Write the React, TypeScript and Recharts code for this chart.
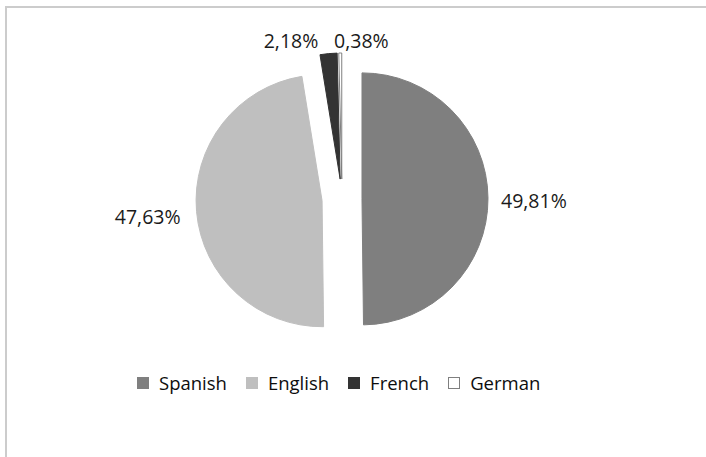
import React from 'react';
import { PieChart, Pie, Cell, Legend } from 'recharts';

const categories = ['Spanish', 'English', 'French', 'German'];
const shares = [49.81, 47.63, 2.18, 0.38];
const labelTexts = ['49,81%', '47,63%', '2,18%', '0,38%'];

const data = categories.map((name, i) => ({ name, value: shares[i] }));

const COLORS = ['#7f7f7f', '#bfbfbf', '#333333', '#ffffff'];
const STROKES = ['#7f7f7f', '#bfbfbf', '#333333', '#7f7f7f'];
const FONT = '"Open Sans", sans-serif';

const CX = 342;
const CY = 199;
const R = 126;
const EXPLODE = 20;
const START = 90;
const END = -270;
const LABEL_GAP = 13;
const LABEL_DX = [0, -3, -9, -6];
const LABEL_DY = [2, 4, 0, 0];
const LABEL_ANCHOR = ['start', 'end', 'end', 'start'];

const total = shares.reduce((a, b) => a + b, 0);
const mids = shares.map((v, i) => {
  const before = shares.slice(0, i).reduce((a, b) => a + b, 0);
  return START - ((before + v / 2) / total) * 360;
});
const RAD = Math.PI / 180;

const makeLabel = (k: number) => (props: any) => {
  if (props.index !== k) return null;
  const cx = props.cx;
  const cy = props.cy;
  const mid = props.midAngle;
  const rr = props.outerRadius + LABEL_GAP;
  const x = cx + rr * Math.cos(-mid * RAD) + LABEL_DX[k];
  const y = cy + rr * Math.sin(-mid * RAD) + LABEL_DY[k];
  return (
    <text
      x={x}
      y={y}
      textAnchor={LABEL_ANCHOR[k]}
      dominantBaseline="central"
      fill="#1a1a1a"
      fontSize={19.5}
      fontFamily={FONT}
    >
      {labelTexts[k]}
    </text>
  );
};

const renderLegend = () => (
  <div
    style={{
      display: 'flex',
      alignItems: 'center',
      paddingLeft: 137,
      fontFamily: FONT,
      fontSize: 18.5,
      color: '#0d0d0d',
    }}
  >
    {categories.map((c, i) => (
      <div key={c} style={{ display: 'flex', alignItems: 'center', marginRight: 19 }}>
        <span
          style={{
            display: 'inline-block',
            width: 10,
            height: 10,
            background: COLORS[i],
            border: i === 3 ? '1px solid #7f7f7f' : '1px solid ' + COLORS[i],
            marginRight: 10,
          }}
        />
        <span>{c}</span>
      </div>
    ))}
  </div>
);

export default function App() {
  return (
    <div style={{ position: 'absolute', left: 0, top: 0, width: 706, height: 457, background: '#fff' }}>
      <div
        style={{
          position: 'absolute',
          left: 5,
          top: 6,
          width: 699,
          height: 449,
          borderTop: '2px solid #cccccc',
          borderLeft: '2px solid #cccccc',
        }}
      />
      <div style={{ position: 'absolute', left: 0, top: 0 }}>
        <PieChart width={706} height={457} margin={{ top: 0, right: 0, bottom: 0, left: 0 }}>
          {data.map((d, k) => (
            <Pie
              key={d.name}
              data={data}
              dataKey="value"
              nameKey="name"
              cx={CX + EXPLODE * Math.cos(-mids[k] * RAD)}
              cy={CY + EXPLODE * Math.sin(-mids[k] * RAD)}
              outerRadius={R}
              startAngle={START}
              endAngle={END}
              isAnimationActive={false}
              labelLine={false}
              label={makeLabel(k)}
              legendType="none"
            >
              {data.map((e, i) => (
                <Cell
                  key={e.name}
                  fill={i === k ? COLORS[i] : 'none'}
                  stroke={i === k ? STROKES[i] : 'none'}
                  strokeWidth={1}
                />
              ))}
            </Pie>
          ))}
          <Legend
            content={renderLegend}
            wrapperStyle={{ position: 'absolute', top: 370, left: 0, width: 706 }}
          />
        </PieChart>
      </div>
    </div>
  );
}
